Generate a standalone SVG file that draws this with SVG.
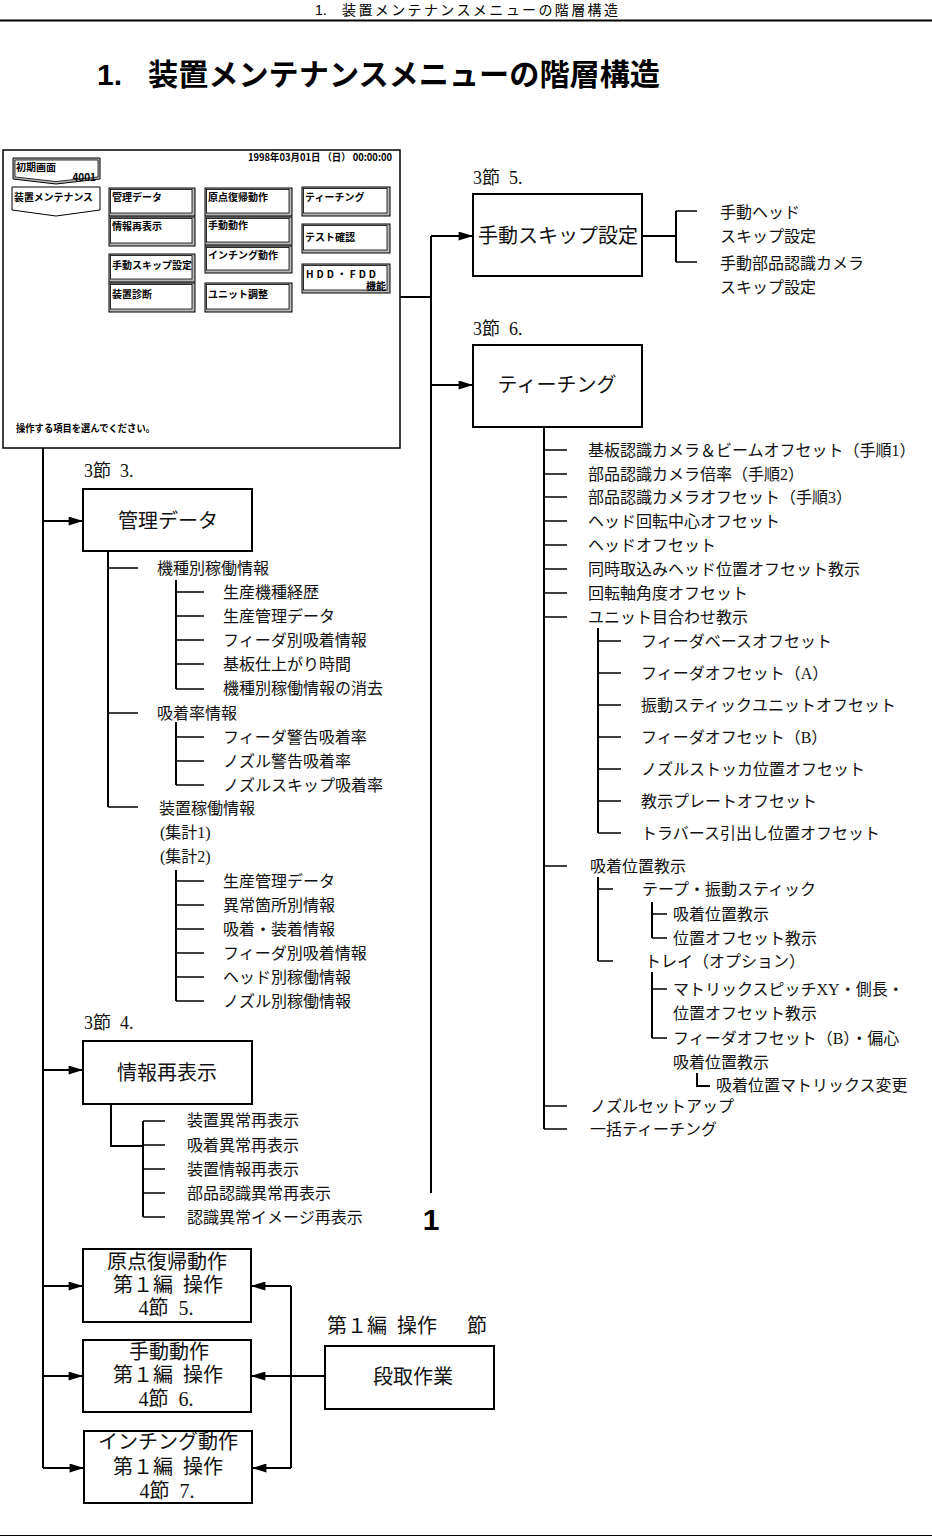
<svg xmlns="http://www.w3.org/2000/svg" width="932" height="1537" viewBox="0 0 932 1537">
<defs>
<marker id="ah" viewBox="0 0 16 10" refX="16" refY="5" markerWidth="16" markerHeight="9" markerUnits="userSpaceOnUse" orient="auto"><path d="M0,0 L16,5 L0,10 z" fill="#000"/></marker>
</defs>
<style>
.t{font-family:"Liberation Serif","Noto Sans CJK JP",serif;font-size:16px;fill:#111}
.b{font-size:20px}
.l{font-size:18px}
.m{text-anchor:middle}
.s{font-family:"Noto Sans CJK JP","Liberation Sans",sans-serif;font-weight:bold;font-size:10px;fill:#000}
.ln{stroke:#000;stroke-width:2;fill:none}
.tk{stroke:#000;stroke-width:1.5;fill:none}
.ar{stroke:#000;stroke-width:2;fill:none;marker-end:url(#ah)}
.box{fill:#fff;stroke:#000;stroke-width:2}
.bo{fill:#b8b8b8;stroke:#000;stroke-width:1}
.bi{fill:#fff;stroke:#000;stroke-width:0.8}
.hd{font-family:"Liberation Sans","Noto Sans CJK JP",sans-serif;fill:#000}
</style>
<rect x="0" y="0" width="932" height="1537" fill="#fff"/>

<g id="header">
<text class="hd" x="315" y="15" font-size="14">1.</text>
<text class="hd" x="342" y="15" font-size="14" textLength="276" lengthAdjust="spacing">装置メンテナンスメニューの階層構造</text>
<line x1="0" y1="20.5" x2="932" y2="20.5" stroke="#000" stroke-width="2"/>
<text class="hd" x="97" y="85" font-size="30" font-weight="bold">1.</text>
<text class="hd" x="148" y="85" font-size="30" font-weight="bold" textLength="512" lengthAdjust="spacingAndGlyphs">装置メンテナンスメニューの階層構造</text>
<line x1="0" y1="1535.5" x2="932" y2="1535.5" stroke="#000" stroke-width="1"/>
</g>

<g id="screen">
<rect x="3" y="150" width="397" height="298" fill="#fff" stroke="#000" stroke-width="1.5"/>
<text class="s" x="248" y="161" textLength="144" lengthAdjust="spacingAndGlyphs" font-weight="normal">1998年03月01日 （日） 00:00:00</text>
<polygon points="13,158 100,158 100,179 56,184 13,179" class="bo"/>
<polygon points="15,160 98,160 98,177 56,181.5 15,177" class="bi"/>
<text class="s" x="16" y="171" font-size="11">初期画面</text>
<text class="s" x="96" y="181" font-size="9" text-anchor="end" font-weight="normal">4001</text>
<polygon points="12,187 100,187 100,210 56,216 12,210" fill="#fff" stroke="#000" stroke-width="1"/>
<text class="s" x="14" y="201" textLength="79" lengthAdjust="spacingAndGlyphs">装置メンテナンス</text>

<g id="btn-kanri"><rect x="109" y="188" width="86" height="28" class="bo"/><rect x="110.5" y="189.5" width="81.5" height="23.5" class="bi"/><text class="s" x="112" y="201">管理データ</text></g>
<g id="btn-joho"><rect x="109" y="217" width="86" height="29" class="bo"/><rect x="110.5" y="218.5" width="81.5" height="24.5" class="bi"/><text class="s" x="112" y="230">情報再表示</text></g>
<g id="btn-skip"><rect x="109" y="254" width="86" height="28" class="bo"/><rect x="110.5" y="255.5" width="81.5" height="23.5" class="bi"/><text class="s" x="112" y="269">手動スキップ設定</text></g>
<g id="btn-shindan"><rect x="109" y="283" width="86" height="29" class="bo"/><rect x="110.5" y="284.5" width="81.5" height="24.5" class="bi"/><text class="s" x="112" y="298">装置診断</text></g>
<g id="btn-genten"><rect x="205" y="188" width="87" height="28" class="bo"/><rect x="206.5" y="189.5" width="82.5" height="23.5" class="bi"/><text class="s" x="208" y="201">原点復帰動作</text></g>
<g id="btn-shudo"><rect x="205" y="217" width="87" height="28" class="bo"/><rect x="206.5" y="218.5" width="82.5" height="23.5" class="bi"/><text class="s" x="208" y="229">手動動作</text></g>
<g id="btn-inching"><rect x="205" y="246" width="87" height="27" class="bo"/><rect x="206.5" y="247.5" width="82.5" height="22.5" class="bi"/><text class="s" x="208" y="259">インチング動作</text></g>
<g id="btn-unit"><rect x="205" y="283" width="87" height="29" class="bo"/><rect x="206.5" y="284.5" width="82.5" height="24.5" class="bi"/><text class="s" x="208" y="298">ユニット調整</text></g>
<g id="btn-teach"><rect x="302" y="187" width="88" height="29" class="bo"/><rect x="303.5" y="188.5" width="83.5" height="24.5" class="bi"/><text class="s" x="305" y="201">ティーチング</text></g>
<g id="btn-test"><rect x="302" y="224" width="88" height="29" class="bo"/><rect x="303.5" y="225.5" width="83.5" height="24.5" class="bi"/><text class="s" x="305" y="241">テスト確認</text></g>
<g id="btn-hdd"><rect x="302" y="264" width="88" height="29" class="bo"/><rect x="303.5" y="265.5" width="83.5" height="24.5" class="bi"/><text class="s" x="306" y="278" textLength="70" lengthAdjust="spacing" font-weight="normal">HDD・FDD</text><text class="s" x="386" y="290" font-size="9" text-anchor="end">機能</text></g>
<text class="s" x="16" y="432" textLength="139" lengthAdjust="spacingAndGlyphs">操作する項目を選んでください。</text>
</g>

<g id="connectors">
<path class="ln" d="M400,297 H431 M431,236 V1193"/>
<path class="ar" d="M431,236 H473"/>
<path class="ar" d="M431,385 H473"/>
<path class="ln" d="M43,448 V1468"/>
<path class="ar" d="M43,521 H83"/>
<path class="ar" d="M43,1070 H83"/>
<path class="ar" d="M43,1286 H83"/>
<path class="ar" d="M43,1376 H83"/>
<path class="ar" d="M43,1468 H84"/>
<path class="ln" d="M291,1286 V1468 M325,1376 H291"/>
<path class="ar" d="M291,1286 H251"/>
<path class="ar" d="M291,1376 H251"/>
<path class="ar" d="M291,1468 H252"/>
<path class="ln" d="M642,236 H676 M676,211 V262"/>
<path class="tk" d="M676,211 H697 M676,262 H697"/>
<path class="ln" d="M544,427 V1129"/>
<path class="tk" d="M544,450 H567 M544,474 H567 M544,497 H567 M544,521 H567 M544,545 H567 M544,569 H567 M544,593 H567 M544,617 H567 M544,866 H567 M544,1106 H567 M544,1129 H567"/>
<path class="ln" d="M598,628 V833"/>
<path class="tk" d="M598,641 H621 M598,673 H621 M598,705 H621 M598,737 H621 M598,769 H621 M598,801 H621 M598,833 H621"/>
<path class="ln" d="M598,877 V961"/>
<path class="tk" d="M598,889 H613 M598,961 H613"/>
<path class="ln" d="M652,902 V938"/>
<path class="tk" d="M652,914 H667 M652,938 H667"/>
<path class="ln" d="M652,972 V1038"/>
<path class="tk" d="M652,989 H667 M652,1038 H667"/>
<path class="ln" d="M697,1073 V1086 H710"/>
<path class="ln" d="M108,551 V807"/>
<path class="tk" d="M108,568 H138 M108,713 H138 M108,807 H138"/>
<path class="ln" d="M176,580 V689"/>
<path class="tk" d="M176,592 H204 M176,616 H204 M176,640 H204 M176,664 H204 M176,689 H204"/>
<path class="ln" d="M176,722 V785"/>
<path class="tk" d="M176,737 H204 M176,761 H204 M176,785 H204"/>
<path class="ln" d="M176,870 V1001"/>
<path class="tk" d="M176,881 H204 M176,905 H204 M176,929 H204 M176,953 H204 M176,977 H204 M176,1001 H204"/>
<path class="ln" d="M111,1104 V1146 H143 M143,1121 V1217"/>
<path class="tk" d="M143,1121 H165 M143,1145 H165 M143,1169 H165 M143,1193 H165 M143,1217 H165"/>
</g>

<text class="hd" x="431" y="1230" font-size="30" font-weight="bold" text-anchor="middle">1</text>

<g id="node-skip">
<text class="t l" x="473" y="184">3節&#x2002;5.</text>
<rect class="box" x="473" y="194" width="169" height="82"/>
<text class="t b m" x="558" y="243">手動スキップ設定</text>
</g>
<g id="list-skip">
<text class="t" x="720" y="218">手動ヘッド</text>
<text class="t" x="720" y="242">スキップ設定</text>
<text class="t" x="720" y="269">手動部品認識カメラ</text>
<text class="t" x="720" y="293">スキップ設定</text>
</g>

<g id="node-teach">
<text class="t l" x="473" y="335">3節&#x2002;6.</text>
<rect class="box" x="473" y="345" width="169" height="82"/>
<text class="t b m" x="557" y="392">ティーチング</text>
</g>
<g id="list-teach">
<text class="t" x="588" y="456">基板認識カメラ＆ビームオフセット（手順1）</text>
<text class="t" x="588" y="480">部品認識カメラ倍率（手順2）</text>
<text class="t" x="588" y="503">部品認識カメラオフセット（手順3）</text>
<text class="t" x="588" y="527">ヘッド回転中心オフセット</text>
<text class="t" x="588" y="551">ヘッドオフセット</text>
<text class="t" x="588" y="575">同時取込みヘッド位置オフセット教示</text>
<text class="t" x="588" y="599">回転軸角度オフセット</text>
<text class="t" x="588" y="623">ユニット目合わせ教示</text>
<text class="t" x="641" y="647">フィーダベースオフセット</text>
<text class="t" x="641" y="679">フィーダオフセット（A）</text>
<text class="t" x="641" y="711">振動スティックユニットオフセット</text>
<text class="t" x="641" y="743">フィーダオフセット（B）</text>
<text class="t" x="641" y="775">ノズルストッカ位置オフセット</text>
<text class="t" x="641" y="807">教示プレートオフセット</text>
<text class="t" x="641" y="839">トラバース引出し位置オフセット</text>
<text class="t" x="590" y="872">吸着位置教示</text>
<text class="t" x="642" y="895">テープ・振動スティック</text>
<text class="t" x="673" y="920">吸着位置教示</text>
<text class="t" x="673" y="944">位置オフセット教示</text>
<text class="t" x="645" y="967">トレイ（オプション）</text>
<text class="t" x="673" y="995">マトリックスピッチXY・側長・</text>
<text class="t" x="673" y="1019">位置オフセット教示</text>
<text class="t" x="673" y="1044">フィーダオフセット（B）・偏心</text>
<text class="t" x="673" y="1068">吸着位置教示</text>
<text class="t" x="716" y="1091">吸着位置マトリックス変更</text>
<text class="t" x="590" y="1112">ノズルセットアップ</text>
<text class="t" x="590" y="1135">一括ティーチング</text>
</g>

<g id="node-kanri">
<text class="t l" x="84" y="477">3節&#x2002;3.</text>
<rect class="box" x="83" y="489" width="169" height="62"/>
<text class="t b m" x="168" y="528">管理データ</text>
</g>
<g id="list-kanri">
<text class="t" x="157" y="574">機種別稼働情報</text>
<text class="t" x="223" y="598">生産機種経歴</text>
<text class="t" x="223" y="622">生産管理データ</text>
<text class="t" x="223" y="646">フィーダ別吸着情報</text>
<text class="t" x="223" y="670">基板仕上がり時間</text>
<text class="t" x="223" y="694">機種別稼働情報の消去</text>
<text class="t" x="157" y="719">吸着率情報</text>
<text class="t" x="223" y="743">フィーダ警告吸着率</text>
<text class="t" x="223" y="767">ノズル警告吸着率</text>
<text class="t" x="223" y="791">ノズルスキップ吸着率</text>
<text class="t" x="159" y="814">装置稼働情報</text>
<text class="t" x="160" y="838">(集計1)</text>
<text class="t" x="160" y="862">(集計2)</text>
<text class="t" x="223" y="887">生産管理データ</text>
<text class="t" x="223" y="911">異常箇所別情報</text>
<text class="t" x="223" y="935">吸着・装着情報</text>
<text class="t" x="223" y="959">フィーダ別吸着情報</text>
<text class="t" x="223" y="983">ヘッド別稼働情報</text>
<text class="t" x="223" y="1007">ノズル別稼働情報</text>
</g>

<g id="node-joho">
<text class="t l" x="84" y="1029">3節&#x2002;4.</text>
<rect class="box" x="83" y="1041" width="169" height="63"/>
<text class="t b m" x="167" y="1080">情報再表示</text>
</g>
<g id="list-joho">
<text class="t" x="187" y="1126">装置異常再表示</text>
<text class="t" x="187" y="1151">吸着異常再表示</text>
<text class="t" x="187" y="1175">装置情報再表示</text>
<text class="t" x="187" y="1199">部品認識異常再表示</text>
<text class="t" x="187" y="1223">認識異常イメージ再表示</text>
</g>

<g id="node-genten">
<rect class="box" x="83" y="1249" width="168" height="73"/>
<text class="t b m" x="167" y="1269">原点復帰動作</text>
<text class="t b m" x="168" y="1292">第１編&#x2002;操作</text>
<text class="t b m" x="166" y="1315">4節&#x2002;5.</text>
</g>
<g id="node-shudo">
<rect class="box" x="83" y="1340" width="168" height="72"/>
<text class="t b m" x="169" y="1359">手動動作</text>
<text class="t b m" x="168" y="1382">第１編&#x2002;操作</text>
<text class="t b m" x="166" y="1406">4節&#x2002;6.</text>
</g>
<g id="node-inching">
<rect class="box" x="84" y="1431" width="168" height="72"/>
<text class="t b m" x="168" y="1449">インチング動作</text>
<text class="t b m" x="168" y="1474">第１編&#x2002;操作</text>
<text class="t b m" x="167" y="1498">4節&#x2002;7.</text>
</g>
<g id="node-dandori">
<text class="t b" x="327" y="1333">第１編&#x2002;操作&#x3000;&#x2002;節</text>
<rect class="box" x="325" y="1346" width="169" height="63"/>
<text class="t b m" x="413" y="1384">段取作業</text>
</g>
</svg>
